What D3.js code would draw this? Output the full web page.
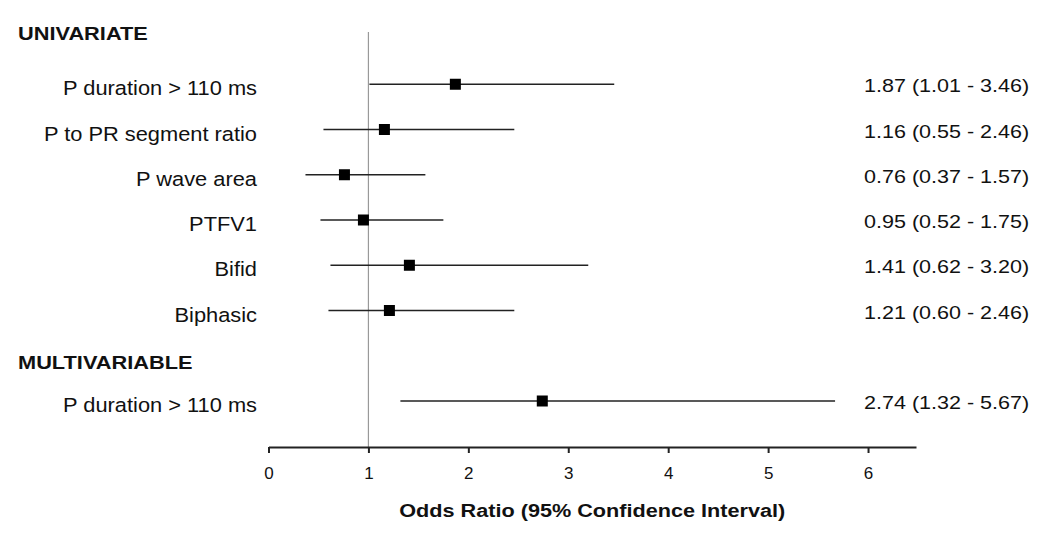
<!DOCTYPE html>
<html>
<head>
<meta charset="utf-8">
<script src="https://cdn.jsdelivr.net/npm/d3@7"></script>
<style>
  body { margin: 0; background: #fff; }
  svg text { font-family: "Liberation Sans", Arial, sans-serif; fill: #111; }
</style>
</head>
<body>
<svg id="svg" width="1050" height="536"></svg>
<script>
// rows of the forest plot
const rowLabels = ["P duration > 110 ms", "P to PR segment ratio", "P wave area", "PTFV1", "Bifid", "Biphasic", "P duration > 110 ms"];
const rowGroup = ["UNIVARIATE", "UNIVARIATE", "UNIVARIATE", "UNIVARIATE", "UNIVARIATE", "UNIVARIATE", "MULTIVARIABLE"];
const oddsRatio = [1.87, 1.16, 0.76, 0.95, 1.41, 1.21, 2.74];
const ciLow = [1.01, 0.55, 0.37, 0.52, 0.62, 0.60, 1.32];
const ciHigh = [3.46, 2.46, 1.57, 1.75, 3.20, 2.46, 5.67];
const groups = ["UNIVARIATE", "MULTIVARIABLE"];
const xTicks = [0, 1, 2, 3, 4, 5, 6];
const xTitle = "Odds Ratio (95% Confidence Interval)";

const svg = d3.select('#svg');

// slot order: header, its rows, next header, ...
let slots = [];
groups.forEach(g => {
    slots.push('h:' + g);
    rowGroup.forEach((rg, i) => { if (rg == g) slots.push('r:' + i); });
});

const y = d3.scalePoint().domain(slots).range([39, 401]);
const x = d3.scaleLinear().domain([0, 6.48]).range([268.5, 916]);
const axisY = 447;
// headers sit a bit lower than their slot once past the first group
const headerDrop = [1, 13];

// stretched text, like the original figure
function wideText(sel, sx) {
    return sel.attr('transform', d => `translate(${d.tx},${d.ty}) scale(${sx},1)`);
}

// reference line at OR = 1
svg.append('line')
    .attr('x1', x(1)).attr('x2', x(1))
    .attr('y1', 32).attr('y2', axisY)
    .attr('stroke', '#999')
    .attr('stroke-width', 1.2);

// axis
const axis = svg.append('g')
    .attr('transform', `translate(0,${axisY})`)
    .call(d3.axisBottom(x).tickValues(xTicks).tickSize(6).tickSizeOuter(0).tickPadding(14).tickFormat(d3.format('d')));
axis.select('.domain').attr('stroke', '#222').attr('stroke-width', 2.2);
axis.selectAll('.tick line').attr('stroke', '#222').attr('stroke-width', 2);
axis.selectAll('.tick text')
    .style('font-family', '"Liberation Sans", Arial, sans-serif')
    .style('font-size', '17px')
    .attr('fill', '#111');

wideText(svg.selectAll('.xtitle')
    .data([{ tx: (x.range()[0] + x.range()[1]) / 2, ty: 517 }])
    .join('text')
    .attr('class', 'xtitle')
    .attr('text-anchor', 'middle')
    .style('font-size', '19px')
    .style('font-weight', 'bold')
    .text(xTitle), 1.14);

// group headers
const headers = groups.map((g, i) => ({ name: g, tx: 18, ty: y('h:' + g) + headerDrop[i] }));
wideText(svg.selectAll('.hdr')
    .data(headers)
    .join('text')
    .attr('class', 'hdr')
    .style('font-size', '18px')
    .style('font-weight', 'bold')
    .text(d => d.name), 1.21);

const rows = rowLabels.map((lab, i) => ({
    label: lab, or: oddsRatio[i], lo: ciLow[i], hi: ciHigh[i], cy: y('r:' + i)
}));

// row labels, right aligned
wideText(svg.selectAll('.lab')
    .data(rows.map(r => Object.assign({}, r, { tx: 257, ty: r.cy + 11 })))
    .join('text')
    .attr('class', 'lab')
    .attr('text-anchor', 'end')
    .style('font-size', '19.5px')
    .text(d => d.label), 1.12);

// confidence intervals
svg.selectAll('.ci')
    .data(rows)
    .join('line')
    .attr('class', 'ci')
    .attr('x1', d => x(d.lo))
    .attr('x2', d => x(d.hi))
    .attr('y1', d => d.cy)
    .attr('y2', d => d.cy)
    .attr('stroke', '#222')
    .attr('stroke-width', 1.6);

// point estimates
const sq = 11;
svg.selectAll('.pt')
    .data(rows)
    .join('rect')
    .attr('class', 'pt')
    .attr('x', d => x(d.or) - sq / 2)
    .attr('y', d => d.cy - sq / 2)
    .attr('width', sq)
    .attr('height', sq)
    .attr('fill', '#000');

// values on the right
const fmt = d3.format('.2f');
wideText(svg.selectAll('.val')
    .data(rows.map(r => Object.assign({}, r, { tx: 864, ty: r.cy + 8 })))
    .join('text')
    .attr('class', 'val')
    .style('font-size', '19px')
    .text(d => `${fmt(d.or)} (${fmt(d.lo)} - ${fmt(d.hi)})`), 1.134);
</script>
</body>
</html>
